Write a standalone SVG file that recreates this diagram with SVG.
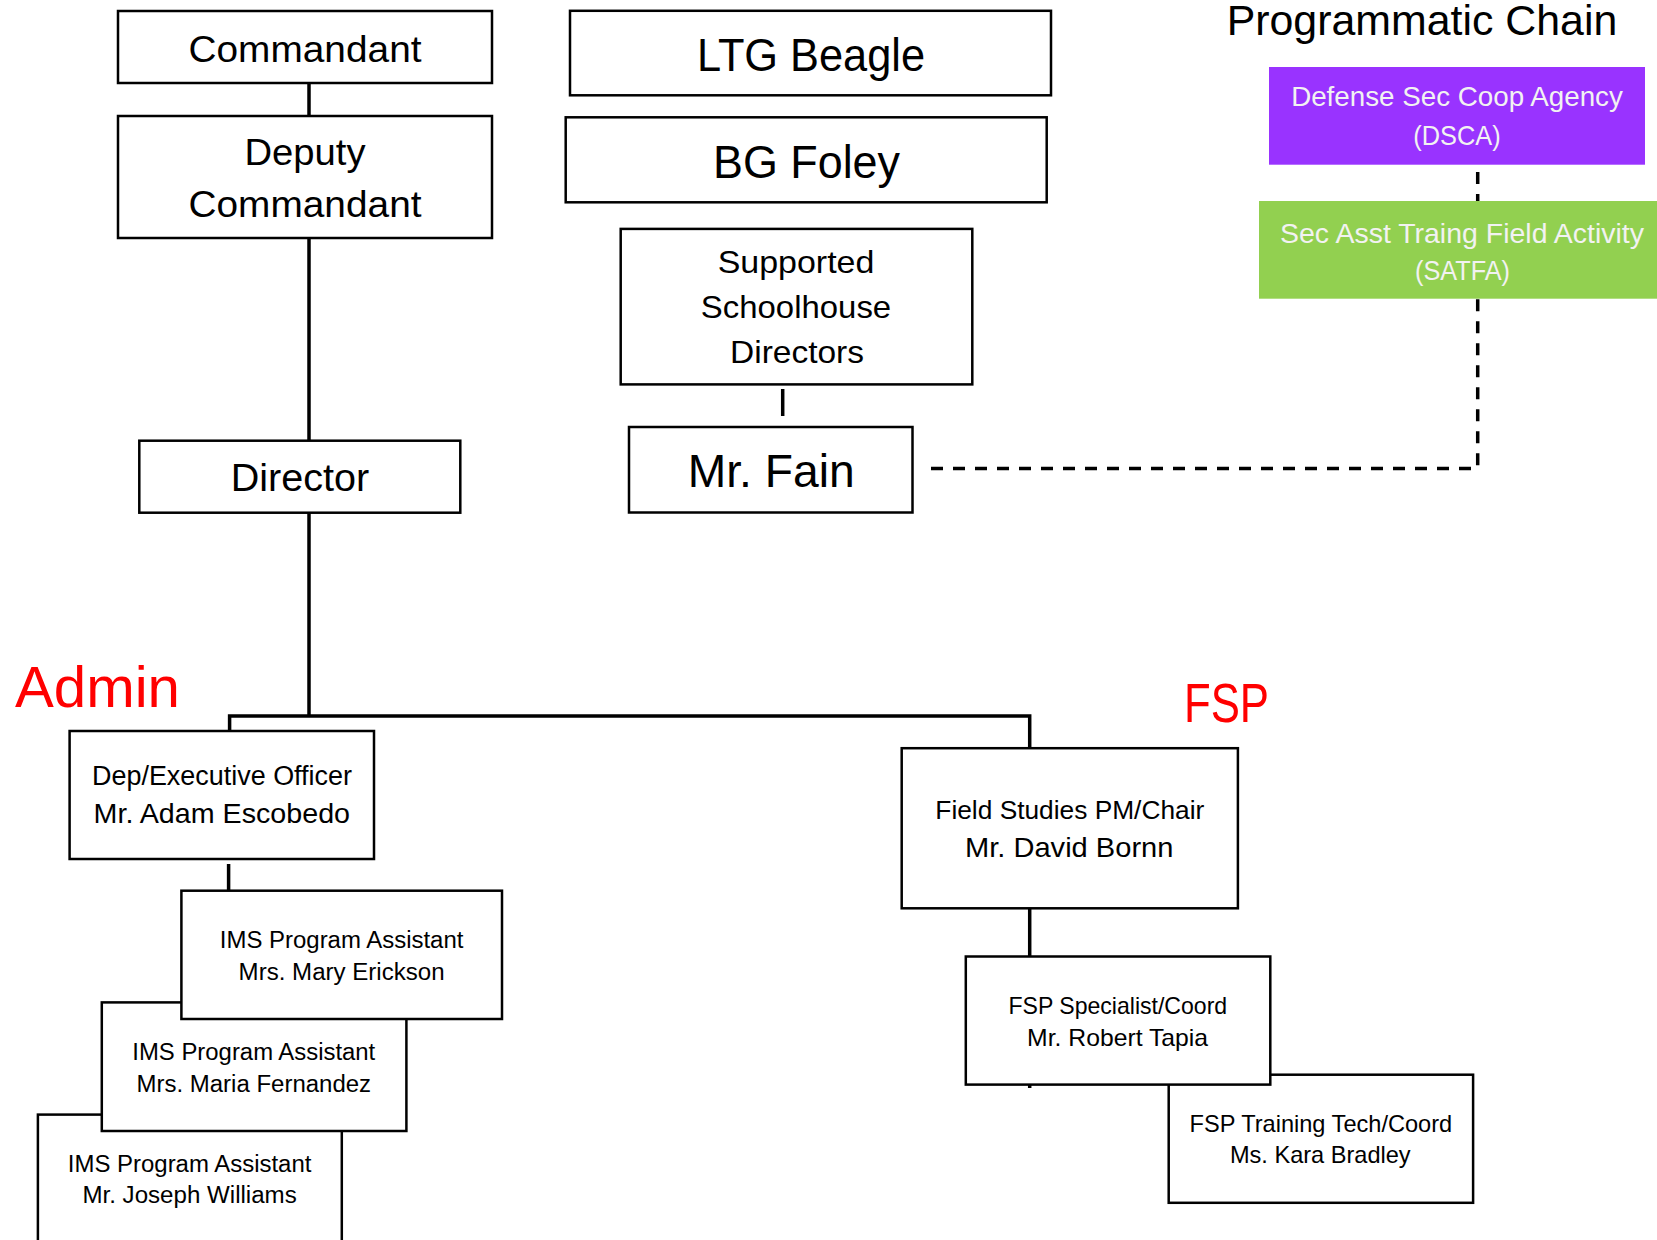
<svg xmlns="http://www.w3.org/2000/svg" width="1657" height="1240" viewBox="0 0 1657 1240">
<style>
.box{fill:#fff;stroke:#000;stroke-width:2.5}
.t{font-family:"Liberation Sans",Arial,sans-serif;fill:#000;text-anchor:middle}
.w{font-family:"Liberation Sans",Arial,sans-serif;fill:#F2F2F2;text-anchor:middle}
.red{font-family:"Liberation Sans",Arial,sans-serif;fill:#FF0000}
.ln{fill:none;stroke:#000;stroke-width:3.5}
.dash{fill:none;stroke:#000;stroke-width:3.5;stroke-dasharray:12 10}
</style>
<rect width="1657" height="1240" fill="#fff"/>
<g id="connectors">
<line class="ln" x1="309" y1="83" x2="309" y2="116"/>
<line class="ln" x1="309" y1="238" x2="309" y2="441"/>
<line class="ln" x1="309" y1="513" x2="309" y2="716"/>
<polyline class="ln" points="229.6,731 229.6,716 1029.7,716 1029.7,748" stroke-width="4"/>
<line class="ln" x1="228.6" y1="864" x2="228.6" y2="891"/>
<line class="ln" x1="1029.7" y1="908" x2="1029.7" y2="957"/>
<line class="ln" x1="1029.7" y1="1084" x2="1029.7" y2="1088"/>
<line class="ln" x1="782.7" y1="389" x2="782.7" y2="416"/>
<line class="dash" x1="1477.7" y1="172" x2="1477.7" y2="201"/>
<polyline class="dash" points="931,468.5 1477.7,468.5 1477.7,299" stroke-dashoffset="0"/>
</g>
<g id="commandant">
<rect class="box" x="118" y="11" width="374" height="72"/>
<text class="t" x="305" y="61.7" font-size="37" textLength="233" lengthAdjust="spacingAndGlyphs">Commandant</text>
</g>
<g id="deputy">
<rect class="box" x="118" y="116" width="374" height="122"/>
<text class="t" x="305" y="165" font-size="37" textLength="121" lengthAdjust="spacingAndGlyphs">Deputy</text>
<text class="t" x="305" y="216.7" font-size="37" textLength="233" lengthAdjust="spacingAndGlyphs">Commandant</text>
</g>
<g id="director">
<rect class="box" x="139.3" y="440.7" width="321" height="72"/>
<text class="t" x="300" y="490.7" font-size="38" textLength="138.5" lengthAdjust="spacingAndGlyphs">Director</text>
</g>
<g id="ltg">
<rect class="box" x="570" y="10.8" width="481" height="84.5"/>
<text class="t" x="811" y="71" font-size="46" textLength="228" lengthAdjust="spacingAndGlyphs">LTG Beagle</text>
</g>
<g id="bg">
<rect class="box" x="565.7" y="117.3" width="481" height="85"/>
<text class="t" x="806.5" y="177.5" font-size="46" textLength="187" lengthAdjust="spacingAndGlyphs">BG Foley</text>
</g>
<g id="supported">
<rect class="box" x="620.7" y="228.9" width="351.6" height="155.5"/>
<text class="t" x="796" y="273" font-size="32" textLength="156.7" lengthAdjust="spacingAndGlyphs">Supported</text>
<text class="t" x="796" y="317.8" font-size="32" textLength="190.3" lengthAdjust="spacingAndGlyphs">Schoolhouse</text>
<text class="t" x="797" y="363.4" font-size="32" textLength="134" lengthAdjust="spacingAndGlyphs">Directors</text>
</g>
<g id="fain">
<rect class="box" x="629" y="427" width="283.5" height="85.5"/>
<text class="t" x="771.2" y="486.8" font-size="47" textLength="167" lengthAdjust="spacingAndGlyphs">Mr. Fain</text>
</g>
<g id="programmatic">
<text class="t" x="1422" y="35" font-size="42" textLength="390.7" lengthAdjust="spacingAndGlyphs">Programmatic Chain</text>
</g>
<g id="dsca">
<rect x="1269" y="67" width="376" height="97.7" fill="#9933FF"/>
<text class="w" x="1457" y="106" font-size="27.5" textLength="331.7" lengthAdjust="spacingAndGlyphs">Defense Sec Coop Agency</text>
<text class="w" x="1457" y="145" font-size="27.5" textLength="87.3" lengthAdjust="spacingAndGlyphs">(DSCA)</text>
</g>
<g id="satfa">
<rect x="1259" y="201" width="398" height="97.7" fill="#92D050"/>
<text class="w" x="1462" y="242.7" font-size="27.5" textLength="364" lengthAdjust="spacingAndGlyphs">Sec Asst Traing Field Activity</text>
<text class="w" x="1462.5" y="280" font-size="27.5" textLength="95" lengthAdjust="spacingAndGlyphs">(SATFA)</text>
</g>
<g id="admin-label">
<text class="red" x="15" y="707" font-size="57" textLength="165" lengthAdjust="spacingAndGlyphs">Admin</text>
</g>
<g id="fsp-label">
<text class="red" x="1184" y="721.7" font-size="56" textLength="85" lengthAdjust="spacingAndGlyphs">FSP</text>
</g>
<g id="depexec">
<rect class="box" x="69.6" y="731" width="304.4" height="128"/>
<text class="t" x="222" y="785.4" font-size="27" textLength="260" lengthAdjust="spacingAndGlyphs">Dep/Executive Officer</text>
<text class="t" x="221.8" y="823" font-size="28" textLength="256.4" lengthAdjust="spacingAndGlyphs">Mr. Adam Escobedo</text>
</g>
<g id="joseph">
<rect class="box" x="37.9" y="1114.6" width="303.9" height="140"/>
<text class="t" x="189.6" y="1172" font-size="23.5" textLength="243.6" lengthAdjust="spacingAndGlyphs">IMS Program Assistant</text>
<text class="t" x="189.6" y="1203" font-size="23.5" textLength="214.3" lengthAdjust="spacingAndGlyphs">Mr. Joseph Williams</text>
</g>
<g id="maria">
<rect class="box" x="101.8" y="1002.4" width="304.6" height="128.6"/>
<text class="t" x="253.8" y="1060" font-size="23.5" textLength="242.9" lengthAdjust="spacingAndGlyphs">IMS Program Assistant</text>
<text class="t" x="253.8" y="1092" font-size="23.5" textLength="234.6" lengthAdjust="spacingAndGlyphs">Mrs. Maria Fernandez</text>
</g>
<g id="mary">
<rect class="box" x="181.4" y="890.7" width="320.6" height="128.3"/>
<text class="t" x="341.6" y="948" font-size="23.5" textLength="243.6" lengthAdjust="spacingAndGlyphs">IMS Program Assistant</text>
<text class="t" x="341.6" y="980" font-size="23.5" textLength="206" lengthAdjust="spacingAndGlyphs">Mrs. Mary Erickson</text>
</g>
<g id="fieldstudies">
<rect class="box" x="901.7" y="748.2" width="336.2" height="160.1"/>
<text class="t" x="1069.8" y="818.8" font-size="26" textLength="268.9" lengthAdjust="spacingAndGlyphs">Field Studies PM/Chair</text>
<text class="t" x="1069.2" y="856.7" font-size="28" textLength="208.4" lengthAdjust="spacingAndGlyphs">Mr. David Bornn</text>
</g>
<g id="training">
<rect class="box" x="1168.7" y="1074.7" width="304.4" height="128.1"/>
<text class="t" x="1320.9" y="1132" font-size="24" textLength="262.6" lengthAdjust="spacingAndGlyphs">FSP Training Tech/Coord</text>
<text class="t" x="1320.3" y="1163" font-size="24" textLength="180.7" lengthAdjust="spacingAndGlyphs">Ms. Kara Bradley</text>
</g>
<g id="specialist">
<rect class="box" x="965.8" y="956.5" width="304.5" height="128.1"/>
<text class="t" x="1117.8" y="1014" font-size="24" textLength="218.7" lengthAdjust="spacingAndGlyphs">FSP Specialist/Coord</text>
<text class="t" x="1117.6" y="1046" font-size="24" textLength="181" lengthAdjust="spacingAndGlyphs">Mr. Robert Tapia</text>
</g>
</svg>
